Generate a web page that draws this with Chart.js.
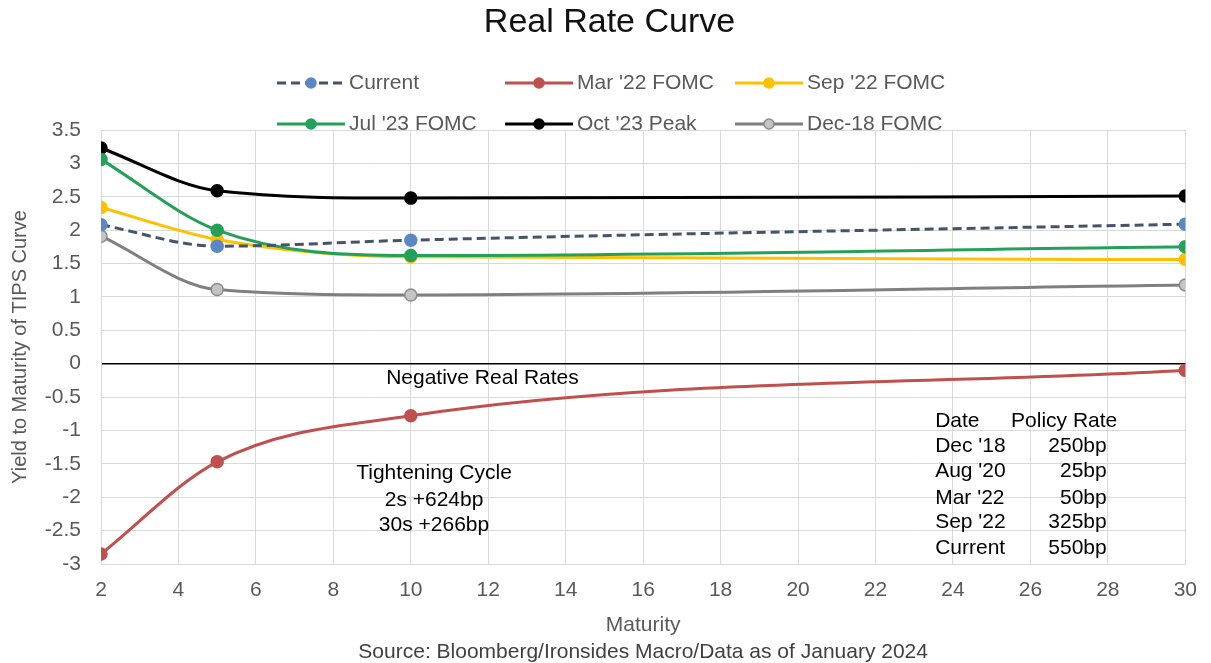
<!DOCTYPE html>
<html>
<head>
<meta charset="utf-8">
<title>Real Rate Curve</title>
<script src="https://cdn.jsdelivr.net/npm/chart.js@4.4.0/dist/chart.umd.min.js"></script>
<style>
body { margin: 0; background: #fff; }
#wrap { width: 1211px; height: 663px; position: relative; }
</style>
</head>
<body>
<div id="wrap"><canvas id="myChart"></canvas></div>
<script>
// maturities in years, yields in %
const maturities = [2, 5, 10, 30];
const current = [2.08, 1.76, 1.85, 2.09];
const mar22 = [-2.85, -1.47, -0.78, -0.10];
const sep22 = [2.34, 1.86, 1.60, 1.56];
const jul23 = [3.06, 2.00, 1.62, 1.75];
const oct23 = [3.23, 2.59, 2.48, 2.51];
const dec18 = [1.91, 1.11, 1.03, 1.18];

const seriesNames = ['Current', "Mar '22 FOMC", "Sep '22 FOMC", "Jul '23 FOMC", "Oct '23 Peak", 'Dec-18 FOMC'];

const chartTitle = 'Real Rate Curve';
const xTitle = 'Maturity';
const yTitle = 'Yield to Maturity of TIPS Curve';
const sourceText = 'Source: Bloomberg/Ironsides Macro/Data as of January 2024';
const negativeLabel = 'Negative Real Rates';
const tighteningLines = ['Tightening Cycle', '2s +624bp', '30s +266bp'];
const policyDates = ['Date', "Dec '18", "Aug '20", "Mar '22", "Sep '22", 'Current'];
const policyRates = ['Policy Rate', '250bp', '25bp', '50bp', '325bp', '550bp'];

const FONT = '"Liberation Sans", Arial, sans-serif';
Chart.defaults.font.family = FONT;

function pts(vals) {
    return maturities.map((m, i) => ({ x: m, y: vals[i] }));
}

function makeSet(label, vals, color, pointFill, pointBorder, order, dash) {
    return {
        label: label,
        data: pts(vals),
        borderColor: color,
        backgroundColor: pointFill,
        pointBackgroundColor: pointFill,
        pointBorderColor: pointBorder,
        pointBorderWidth: 1.5,
        pointRadius: 6,
        borderWidth: 3,
        borderDash: dash || [],
        cubicInterpolationMode: 'monotone',
        order: order
    };
}

const datasets = [
    makeSet(seriesNames[0], current, '#44546a', '#5b87c5', '#5b87c5', 0, [9, 5]),
    makeSet(seriesNames[1], mar22, '#c0504d', '#c0504d', '#c0504d', 1),
    makeSet(seriesNames[2], sep22, '#ffc000', '#ffc000', '#ffc000', 4),
    makeSet(seriesNames[3], jul23, '#25a05a', '#25a05a', '#25a05a', 2),
    makeSet(seriesNames[4], oct23, '#000000', '#000000', '#000000', 3),
    makeSet(seriesNames[5], dec18, '#7f7f7f', '#c4c4c4', '#8c8c8c', 5)
];

const extras = {
    id: 'extras',
    afterDatasetsDraw(chart) {
        const ctx = chart.ctx;
        const xs = chart.scales.x, ys = chart.scales.y;
        ctx.save();
        ctx.fillStyle = '#000';
        ctx.font = '21px ' + FONT;
        ctx.textBaseline = 'middle';
        ctx.textAlign = 'center';
        ctx.fillText(negativeLabel, xs.getPixelForValue(11.85), ys.getPixelForValue(-0.21));
        const tY = [-1.635, -2.05, -2.42];
        tighteningLines.forEach((t, i) => {
            ctx.fillText(t, xs.getPixelForValue(10.6), ys.getPixelForValue(tY[i]));
        });
        const rowY = [-0.867, -1.241, -1.615, -2.01, -2.38, -2.77];
        policyDates.forEach((d, i) => {
            ctx.textAlign = 'left';
            ctx.fillText(d, xs.getPixelForValue(23.54), ys.getPixelForValue(rowY[i]));
            if (i == 0) {
                ctx.fillText(policyRates[i], xs.getPixelForValue(25.5), ys.getPixelForValue(rowY[i]));
            } else {
                ctx.textAlign = 'right';
                ctx.fillText(policyRates[i], xs.getPixelForValue(27.97), ys.getPixelForValue(rowY[i]));
            }
        });
        ctx.restore();
    },
    afterDraw(chart) {
        const ctx = chart.ctx;
        const area = chart.chartArea;
        ctx.save();
        // title
        ctx.fillStyle = '#111';
        ctx.font = '34px ' + FONT;
        ctx.textAlign = 'center';
        ctx.textBaseline = 'middle';
        ctx.fillText(chartTitle, chart.width / 2 + 4, 23);
        // legend, 3 per row
        const cols = [277, 505, 735], rows = [83, 124];
        chart.data.datasets.forEach((ds, i) => {
            const x = cols[i % 3], y = rows[Math.floor(i / 3)];
            ctx.strokeStyle = ds.borderColor;
            ctx.lineWidth = 3;
            ctx.setLineDash(ds.borderDash);
            ctx.beginPath();
            ctx.moveTo(x, y);
            ctx.lineTo(x + 68, y);
            ctx.stroke();
            ctx.setLineDash([]);
            ctx.beginPath();
            ctx.arc(x + 34, y, 5, 0, Math.PI * 2);
            ctx.fillStyle = ds.pointBackgroundColor;
            ctx.fill();
            ctx.lineWidth = 1.5;
            ctx.strokeStyle = ds.pointBorderColor;
            ctx.stroke();
            ctx.fillStyle = '#595959';
            ctx.font = '21px ' + FONT;
            ctx.textAlign = 'left';
            ctx.fillText(ds.label, x + 72, y);
        });
        // source line
        ctx.fillStyle = '#404040';
        ctx.font = '21px ' + FONT;
        ctx.textAlign = 'center';
        ctx.fillText(sourceText, (area.left + area.right) / 2, 652);
        ctx.restore();
    }
};

const config = {
    type: 'line',
    data: { datasets: datasets },
    options: {
        responsive: true,
        maintainAspectRatio: false,
        animation: false,
        layout: { padding: { top: 130, right: 18, bottom: 22, left: 0 } },
        plugins: {
            legend: { display: false },
            title: { display: false },
            tooltip: { enabled: false }
        },
        scales: {
            x: {
                type: 'linear',
                min: 2,
                max: 30,
                afterFit: (s) => { s.height = 77; },
                ticks: { stepSize: 2, padding: 14, color: '#595959', font: { size: 21 } },
                grid: { color: '#d9d9d9', drawTicks: false },
                border: { color: '#d9d9d9' },
                title: { display: true, text: xTitle, color: '#595959', font: { size: 21 }, padding: { top: 0, bottom: 3 } }
            },
            y: {
                min: -3,
                max: 3.5,
                afterFit: (s) => { s.width = 101; },
                ticks: {
                    stepSize: 0.5,
                    padding: 20,
                    color: '#595959',
                    font: { size: 21 },
                    callback: (v) => String(v)
                },
                grid: {
                    drawTicks: false,
                    color: (c) => c.tick && c.tick.value === 0 ? '#000000' : '#d9d9d9',
                    lineWidth: (c) => c.tick && c.tick.value === 0 ? 1.5 : 1
                },
                border: { color: '#d9d9d9' },
                title: { display: true, text: yTitle, color: '#595959', font: { size: 20 }, padding: { top: 8, bottom: 0 } }
            }
        }
    },
    plugins: [extras]
};

const chart1 = new Chart(document.getElementById('myChart'), config);
</script>
</body>
</html>
